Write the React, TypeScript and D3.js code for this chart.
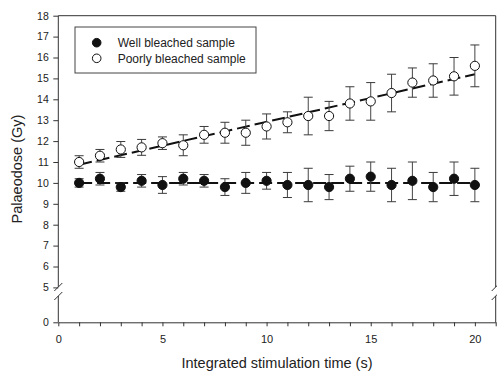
import React, { useEffect, useRef } from 'react';
import * as d3 from 'd3';

// stimulation time (s)
const times = [1, 2, 3, 4, 5, 6, 7, 8, 9, 10, 11, 12, 13, 14, 15, 16, 17, 18, 19, 20];

// Well bleached sample (filled)
const wellDose = [10.0, 10.2, 9.8, 10.1, 9.9, 10.2, 10.1, 9.8, 10.0, 10.1, 9.9, 9.9, 9.8, 10.2, 10.3, 9.9, 10.1, 9.8, 10.2, 9.9];
const wellErr = [0.2, 0.3, 0.2, 0.3, 0.4, 0.3, 0.3, 0.4, 0.5, 0.4, 0.6, 0.8, 0.6, 0.6, 0.7, 0.8, 0.9, 0.7, 0.8, 0.8];

// Poorly bleached sample (open)
const poorDose = [11.0, 11.3, 11.6, 11.7, 11.9, 11.8, 12.3, 12.4, 12.4, 12.7, 12.9, 13.2, 13.2, 13.8, 13.9, 14.3, 14.8, 14.9, 15.1, 15.6];
const poorErr = [0.3, 0.3, 0.38, 0.38, 0.3, 0.5, 0.4, 0.5, 0.6, 0.6, 0.5, 0.9, 0.7, 0.8, 0.9, 0.9, 0.7, 0.8, 0.9, 1.0];

// regression lines (end points)
const fitX = [1, 20];
const wellFit = [10.0, 10.0];
const poorFit = [10.87, 15.2];

const xTicks = d3.range(0, 22);
const xLabels = [0, 5, 10, 15, 20];
const yTicksUpper = d3.range(5, 19);
const yTicksLower = [0];

const legendLabels = ['Well bleached sample', 'Poorly bleached sample'];

const FONT = '"Liberation Sans", Arial, sans-serif';

export default function App() {
  const svgRef = useRef<SVGSVGElement>(null);

  useEffect(() => {
    const svg = d3.select(svgRef.current);
    svg.selectAll('*').remove();

    const left = 58.3, right = 495.7, top = 15.7, bottom = 322.3;
    const breakTop = 287, breakBottom = 296;

    const x = d3.scaleLinear().domain([0, 21]).range([left, right]);
    const y = d3.scaleLinear().domain([5, 18]).range([287.4, top]);
    const yLow = d3.scaleLinear().domain([0, 1.25]).range([bottom, breakBottom]);

    const axisColor = '#333';

    // frame: top + right side with break
    svg.append('line')
      .attr('x1', left).attr('x2', right).attr('y1', top).attr('y2', top)
      .attr('stroke', axisColor);
    [left, right].forEach(px => {
      svg.append('line')
        .attr('x1', px).attr('x2', px).attr('y1', top).attr('y2', breakTop)
        .attr('stroke', axisColor);
      svg.append('line')
        .attr('x1', px).attr('x2', px).attr('y1', breakBottom).attr('y2', bottom)
        .attr('stroke', axisColor);
      // break slashes
      [breakTop, breakBottom].forEach(cy => {
        svg.append('line')
          .attr('x1', px - 4).attr('y1', cy + 4)
          .attr('x2', px + 4).attr('y2', cy - 4)
          .attr('stroke', axisColor);
      });
    });

    // x axis
    const xAxis = svg.append('g')
      .attr('transform', `translate(0,${bottom})`)
      .call(d3.axisBottom(x).tickValues(xTicks).tickSize(4).tickSizeOuter(0)
        .tickFormat(d => (xLabels.includes(d as number) ? String(d) : '')));
    xAxis.select('.domain').attr('stroke', axisColor);
    xAxis.selectAll('line').attr('stroke', axisColor);
    xAxis.selectAll('text')
      .attr('font-family', FONT).attr('font-size', '11px').attr('fill', '#222')
      .attr('dy', '0')
      .attr('y', 21);

    // y axis upper
    const yAxis = svg.append('g')
      .attr('transform', `translate(${left},0)`)
      .call(d3.axisLeft(y).tickValues(yTicksUpper).tickSize(5).tickSizeOuter(0)
        .tickFormat(d3.format('d')));
    yAxis.select('.domain').remove();
    yAxis.selectAll('line').attr('stroke', axisColor);
    yAxis.selectAll('text')
      .attr('font-family', FONT).attr('font-size', '10.5px').attr('fill', '#222')
      .attr('x', -9.5);

    const yAxisLow = svg.append('g')
      .attr('transform', `translate(${left},0)`)
      .call(d3.axisLeft(yLow).tickValues(yTicksLower).tickSize(5).tickSizeOuter(0)
        .tickFormat(d3.format('d')));
    yAxisLow.select('.domain').remove();
    yAxisLow.selectAll('line').attr('stroke', axisColor);
    yAxisLow.selectAll('text')
      .attr('font-family', FONT).attr('font-size', '10.5px').attr('fill', '#222')
      .attr('x', -9.5);

    // axis titles
    svg.append('text')
      .attr('x', (left + right) / 2).attr('y', 368)
      .attr('text-anchor', 'middle')
      .attr('font-family', FONT).attr('font-size', '14.5px').attr('fill', '#222')
      .text('Integrated stimulation time (s)');

    svg.append('text')
      .attr('transform', 'rotate(-90)')
      .attr('x', -169).attr('y', 21.5)
      .attr('text-anchor', 'middle')
      .attr('font-family', FONT).attr('font-size', '14.5px').attr('fill', '#222')
      .text('Palaeodose (Gy)');

    // regression lines
    const line = d3.line<number>()
      .x((_, i) => x(fitX[i]))
      .y(d => y(d));
    [wellFit, poorFit].forEach(fit => {
      svg.append('path')
        .datum(fit)
        .attr('d', line)
        .attr('fill', 'none')
        .attr('stroke', '#111')
        .attr('stroke-width', 2)
        .attr('stroke-dasharray', '13,5');
    });

    // error bars + points
    const drawSeries = (vals: number[], errs: number[], filled: boolean) => {
      const g = svg.append('g');
      vals.forEach((v, i) => {
        const cx = x(times[i]);
        const y1 = y(v + errs[i]);
        const y2 = y(v - errs[i]);
        g.append('line')
          .attr('x1', cx).attr('x2', cx).attr('y1', y1).attr('y2', y2)
          .attr('stroke', '#444');
        [y1, y2].forEach(cy => {
          g.append('line')
            .attr('x1', cx - 4.5).attr('x2', cx + 4.5).attr('y1', cy).attr('y2', cy)
            .attr('stroke', '#3a3a3a');
        });
      });
      g.selectAll('circle')
        .data(vals)
        .join('circle')
        .attr('cx', (_, i) => x(times[i]))
        .attr('cy', d => y(d))
        .attr('r', 4.6)
        .attr('fill', filled ? '#111' : '#fff')
        .attr('stroke', '#111')
        .attr('stroke-width', 1);
    };
    drawSeries(wellDose, wellErr, true);
    drawSeries(poorDose, poorErr, false);

    // legend
    const legend = svg.append('g');
    legend.append('rect')
      .attr('x', 75).attr('y', 27).attr('width', 181).attr('height', 46)
      .attr('fill', '#fff').attr('stroke', '#444');
    legendLabels.forEach((label, i) => {
      const cy = 42.7 + i * 15.6;
      legend.append('circle')
        .attr('cx', 96.7).attr('cy', cy).attr('r', 4.3)
        .attr('fill', i === 0 ? '#111' : '#fff')
        .attr('stroke', '#111');
      legend.append('text')
        .attr('x', 117.7).attr('y', cy + 4.2)
        .attr('font-family', FONT).attr('font-size', '12px').attr('fill', '#222')
        .text(label);
    });
  }, []);

  return (
    <svg
      ref={svgRef}
      width={497}
      height={371}
      style={{ position: 'absolute', left: 0, top: 0, background: '#fff' }}
    />
  );
}
